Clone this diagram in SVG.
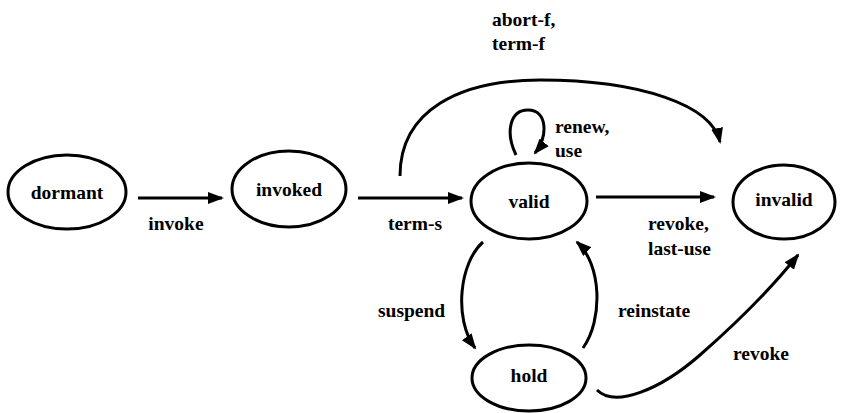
<svg xmlns="http://www.w3.org/2000/svg" width="841" height="413" viewBox="0 0 841 413">
<style>
svg text, text.t { font-family: 'Liberation Serif', 'Times New Roman', serif !important; font-size: 19.5px; font-weight: 700; fill: #000; }
.n { fill: #fff; stroke: #000; stroke-width: 3; }
.e { fill: none; stroke: #000; stroke-width: 3; marker-end: url(#ah); }
</style>
<defs>
<marker id="ah" markerUnits="userSpaceOnUse" markerWidth="16" markerHeight="12" refX="14" refY="6" orient="auto">
<path d="M0,0 L16,6 L0,12 z" fill="#000"/>
</marker>
</defs>
<rect width="841" height="413" fill="#fff"/>
<g id="connectors">
<path class="e" d="M138,198 L222,198"/>
<path class="e" d="M358,198 L462,198"/>
<path class="e" d="M596,197 L714,197"/>
<path class="e" d="M400,176 C400,110 460,80 540,80 C640,80 712,105 720,142"/>
<path class="e" d="M516,155 C505,132 510,110 528,110 C548,110 548,138 535,153"/>
<path class="e" d="M483,242 C460,262 453,318 475,348"/>
<path class="e" d="M583,348 C603,320 602,265 577,242"/>
<path class="e" d="M597,390 C615,408 660,390 700,355 C740,320 770,290 798,255"/>
<text class="t" x="176" y="230" text-anchor="middle" style="font-family:'Liberation Serif',serif !important">invoke</text>
<text class="t" x="415" y="230" text-anchor="middle" style="font-family:'Liberation Serif',serif !important">term-s</text>
<text class="t" x="492" y="26" style="font-family:'Liberation Serif',serif !important">abort-f,</text>
<text class="t" x="492" y="50" style="font-family:'Liberation Serif',serif !important">term-f</text>
<text class="t" x="555" y="133" style="font-family:'Liberation Serif',serif !important">renew,</text>
<text class="t" x="555" y="157" style="font-family:'Liberation Serif',serif !important">use</text>
<text class="t" x="648" y="230" style="font-family:'Liberation Serif',serif !important">revoke,</text>
<text class="t" x="648" y="255" style="font-family:'Liberation Serif',serif !important">last-use</text>
<text class="t" x="378" y="317" style="font-family:'Liberation Serif',serif !important">suspend</text>
<text class="t" x="618" y="317" style="font-family:'Liberation Serif',serif !important">reinstate</text>
<text class="t" x="733" y="360" style="font-family:'Liberation Serif',serif !important">revoke</text>
</g>
<g id="dormant"><ellipse class="n" cx="67" cy="192" rx="59" ry="37"/><text class="t" x="67" y="199" text-anchor="middle" style="font-family:'Liberation Serif',serif !important">dormant</text></g>
<g id="invoked"><ellipse class="n" cx="289" cy="189" rx="57" ry="38"/><text class="t" x="289" y="196" text-anchor="middle" style="font-family:'Liberation Serif',serif !important">invoked</text></g>
<g id="valid"><ellipse class="n" cx="529" cy="201" rx="58" ry="38"/><text class="t" x="529" y="208" text-anchor="middle" style="font-family:'Liberation Serif',serif !important">valid</text></g>
<g id="invalid"><ellipse class="n" cx="784" cy="202" rx="51" ry="37"/><text class="t" x="784" y="206" text-anchor="middle" style="font-family:'Liberation Serif',serif !important">invalid</text></g>
<g id="hold"><ellipse class="n" cx="529" cy="378" rx="57" ry="33"/><text class="t" x="529" y="382" text-anchor="middle" style="font-family:'Liberation Serif',serif !important">hold</text></g>
</svg>
